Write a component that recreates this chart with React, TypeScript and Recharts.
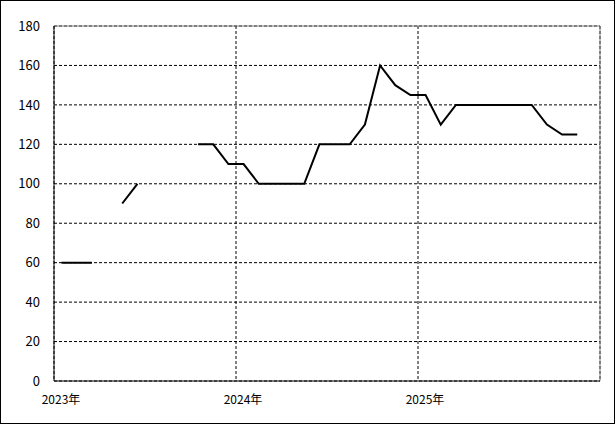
import React from 'react';
import { LineChart, Line, XAxis, YAxis, CartesianGrid, ReferenceLine } from 'recharts';

const months: string[] = [
  '2023-01','2023-02','2023-03','2023-04','2023-05','2023-06','2023-07','2023-08','2023-09','2023-10','2023-11','2023-12',
  '2024-01','2024-02','2024-03','2024-04','2024-05','2024-06','2024-07','2024-08','2024-09','2024-10','2024-11','2024-12',
  '2025-01','2025-02','2025-03','2025-04','2025-05','2025-06','2025-07','2025-08','2025-09','2025-10','2025-11','2025-12',
];
const values: (number | null)[] = [
  60, 60, 60, null, 90, 100, null, null, null, 120, 120, 110,
  110, 100, 100, 100, 100, 120, 120, 120, 130, 160, 150, 145,
  145, 130, 140, 140, 140, 140, 140, 140, 130, 125, 125, null,
];
const yTicks: number[] = [0, 20, 40, 60, 80, 100, 120, 140, 160, 180];
const xTicks: number[] = [0, 12, 24, 36];
const xTickLabels: string[] = ['2023年', '2024年', '2025年', ''];

const data = months.map((m, i) => ({ month: m, x: i + 0.5, v: values[i] }));

const FONT = '"Noto Sans CJK JP", "DejaVu Sans", sans-serif';

const XTick = (props: any) => {
  const { x, y, payload } = props;
  const label = xTickLabels[xTicks.indexOf(payload.value)] ?? '';
  return (
    <text x={x + 7} y={y} dy="0.71em" textAnchor="middle" fontSize={12} fontFamily={FONT} fill="#000">
      {label}
    </text>
  );
};

export default function App() {
  return (
    <div style={{ position: 'absolute', left: 0, top: 0, width: 615, height: 424, background: '#fff' }}>
      <LineChart width={615} height={424} data={data} margin={{ top: 26, right: 15, bottom: 13, left: 0 }}>
        <CartesianGrid stroke="#000" strokeDasharray="3 2" strokeWidth={1} />
        <XAxis
          dataKey="x"
          type="number"
          domain={[0, 36]}
          ticks={xTicks}
          height={30}
          tickLine={false}
          tickSize={0}
          tickMargin={14}
          tick={<XTick />}
          axisLine={{ stroke: '#000', strokeWidth: 1 }}
          interval={0}
        />
        <YAxis
          domain={[0, 180]}
          ticks={yTicks}
          width={54}
          tickLine={false}
          tickSize={0}
          tickMargin={14}
          tick={{ fill: '#000', fontSize: 13, fontFamily: FONT }}
          axisLine={{ stroke: '#000', strokeWidth: 1 }}
          interval={0}
        />
        <ReferenceLine y={180} stroke="#808080" strokeWidth={1} />
        <ReferenceLine x={36} stroke="#808080" strokeWidth={1} />
        <Line
          dataKey="v"
          stroke="#000"
          strokeWidth={2}
          dot={false}
          activeDot={false}
          connectNulls={false}
          isAnimationActive={false}
          type="linear"
        />
      </LineChart>
      <div style={{ position: 'absolute', left: 0, top: 0, width: 615, height: 424, boxSizing: 'border-box', border: '1px solid #000', pointerEvents: 'none' }} />
    </div>
  );
}
